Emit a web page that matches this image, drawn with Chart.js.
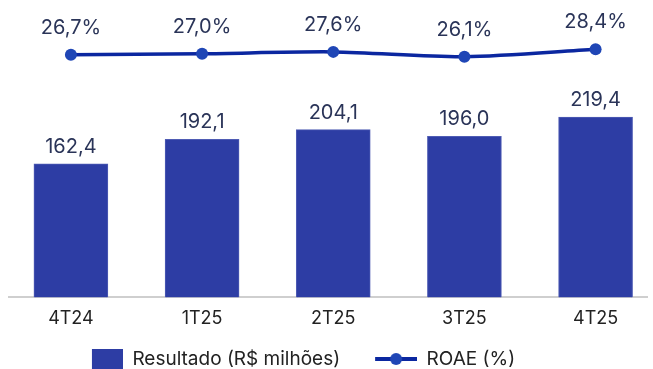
<!DOCTYPE html>
<html>
<head>
<meta charset="utf-8">
<script src="https://cdn.jsdelivr.net/npm/chart.js@4/dist/chart.umd.min.js"></script>
<style>
  html, body { margin: 0; padding: 0; background: #fff; overflow: hidden; }
  #wrap { position: relative; width: 653px; height: 369px; }
</style>
</head>
<body>
<div id="wrap"><canvas id="chart"></canvas></div>
<script>
const periods = ['4T24', '1T25', '2T25', '3T25', '4T25']
const resultado = [162.4, 192.1, 204.1, 196.0, 219.4]
const roae = [26.7, 27.0, 27.6, 26.1, 28.4]

const barColor = '#2D3DA4'
const lineColor = '#0B27A0'
const dotColor = '#1F46B6'
const labelColor = '#2A3458'
const fontFamily = 'Inter, "Noto Sans", sans-serif'

const fmt = (v, dec) => v.toFixed(dec).replace('.', ',')

// legend swatches, drawn flush right inside a wider slot so the
// transparent part acts as spacing between the two entries
const barSwatch = (() => {
    const c = document.createElement('canvas')
    c.width = 74; c.height = 20
    const ctx = c.getContext('2d')
    ctx.fillStyle = barColor
    ctx.fillRect(43, 0, 31, 20)
    return c
})()

const lineSwatch = (() => {
    const c = document.createElement('canvas')
    c.width = 74; c.height = 14
    const ctx = c.getContext('2d')
    ctx.strokeStyle = lineColor
    ctx.lineWidth = 4
    ctx.beginPath()
    ctx.moveTo(32, 7)
    ctx.lineTo(74, 7)
    ctx.stroke()
    ctx.fillStyle = dotColor
    ctx.beginPath()
    ctx.arc(53, 7, 6, 0, Math.PI * 2)
    ctx.fill()
    return c
})()

const valueLabels = {
    id: 'valueLabels',
    afterDatasetsDraw(chart) {
        const ctx = chart.ctx
        ctx.save()
        ctx.font = '20px ' + fontFamily
        ctx.fillStyle = labelColor
        ctx.textAlign = 'center'
        ctx.textBaseline = 'middle'
        chart.data.datasets.forEach((ds, i) => {
            const meta = chart.getDatasetMeta(i)
            meta.data.forEach((el, j) => {
                const v = ds.data[j].y
                if (ds.type === 'bar') {
                    ctx.fillText(fmt(v, 1), el.x, el.y - 17)
                } else {
                    ctx.fillText(fmt(v, 1) + '%', el.x, el.y - 27)
                }
            })
        })
        ctx.restore()
    }
}

// move the legend left and a little lower
const legendShift = {
    id: 'legendShift',
    afterLayout(chart) {
        const lg = chart.legend
        lg.left -= 49
        lg.right -= 49
        lg.top += 7.5
        lg.bottom += 7.5
    }
}

new Chart(document.getElementById('chart'), {
    data: {
        datasets: [{
            type: 'line',
            label: 'ROAE (%)',
            data: roae.map((v, i) => ({x: i, y: v})),
            yAxisID: 'y2',
            borderColor: lineColor,
            borderWidth: 3.5,
            tension: 0.3,
            pointRadius: 6,
            pointBackgroundColor: dotColor,
            pointBorderWidth: 0,
            order: 0
        }, {
            type: 'bar',
            label: 'Resultado (R$ milhões)',
            data: resultado.map((v, i) => ({x: i, y: v})),
            yAxisID: 'y',
            backgroundColor: barColor,
            borderColor: '#4F5CB4',
            borderWidth: 1,
            barThickness: 74,
            order: 1
        }]
    },
    options: {
        responsive: true,
        maintainAspectRatio: false,
        animation: false,
        layout: { padding: { top: 10, left: 9, right: 0, bottom: -2 } },
        scales: {
            x: {
                type: 'linear',
                offset: false,
                min: -0.472,
                max: 4.392,
                grid: { display: false, drawTicks: false },
                border: { display: true, color: '#CFCFCF', width: 2 },
                ticks: {
                    stepSize: 1,
                    includeBounds: false,
                    autoSkip: false,
                    maxRotation: 0,
                    padding: 10,
                    color: '#222',
                    font: { family: fontFamily, size: 18 },
                    callback: v => Number.isInteger(v) ? periods[v] : ''
                }
            },
            y: { display: false, min: 0, max: 349.5 },
            y2: { display: false, min: -49.2, max: 40.7 }
        },
        plugins: {
            tooltip: { enabled: false },
            legend: {
                position: 'bottom',
                reverse: true,
                labels: {
                    usePointStyle: true,
                    pointStyleWidth: 74,
                    padding: 3,
                    color: '#222',
                    font: { family: fontFamily, size: 19 },
                    generateLabels: chart => chart.data.datasets.map((ds, i) => ({
                        text: ds.label,
                        datasetIndex: i,
                        pointStyle: ds.type === 'bar' ? barSwatch : lineSwatch,
                        fontColor: '#222',
                        lineWidth: 0
                    }))
                }
            }
        }
    },
    plugins: [valueLabels, legendShift]
})
</script>
</body>
</html>
